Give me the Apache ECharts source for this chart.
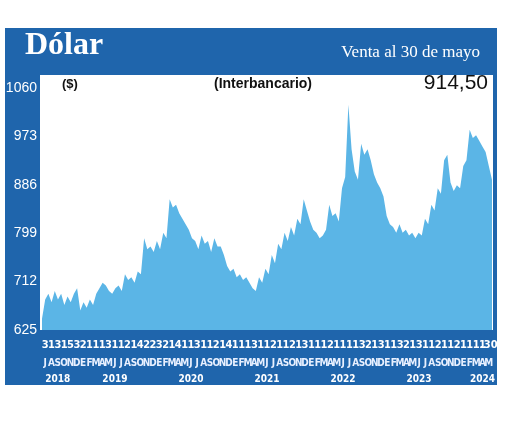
<!DOCTYPE html><html><head><meta charset="utf-8"><script src="https://cdn.jsdelivr.net/npm/echarts@6/dist/echarts.min.js"></script>
<style>body{margin:0;background:#fff}#c{width:520px;height:437px}</style></head><body><div id="c"></div>
<script>
const months=['J','A','S','O','N','D','E','F','M','A','M','J','J','A','S','O','N','D','E','F','M','A','M','J','J','A','S','O','N','D','E','F','M','A','M','J','J','A','S','O','N','D','E','F','M','A','M','J','J','A','S','O','N','D','E','F','M','A','M','J','J','A','S','O','N','D','E','F','M','A','M'];
const days='3131532111311214223214113112141113112112131112111132131132131121121111'.split('').concat(['.30']);
const yearLabels={2:'2018',11:'2019',23:'2020',35:'2021',47:'2022',59:'2023',69:'2024'};
const yTicks=[625,712,799,886,973,1060];
// two values per month, Jul 2018 .. May 2024
const values=[645,680,690,675,695,680,690,670,685,675,690,700,660,675,665,680,670,690,700,710,705,695,690,700,705,695,725,715,720,710,730,725,790,770,775,765,785,770,800,790,860,845,850,835,825,815,805,790,785,770,795,780,785,765,790,775,775,760,740,730,735,720,725,715,720,710,700,695,720,710,735,725,760,745,780,770,800,785,810,795,825,815,860,840,820,805,800,790,795,805,850,830,835,820,880,900,1030,950,910,895,960,940,950,930,905,890,880,865,830,815,810,800,815,800,805,795,800,790,800,795,825,815,850,840,880,870,930,940,890,875,885,880,920,930,985,970,975,965,955,945,920,895];
const xcat=values.map((v,i)=>i);
const chart=echarts.init(document.getElementById('c'));
const ax=(data,off,col,fs)=>({type:'category',gridIndex:0,position:'bottom',offset:off,data:data,boundaryGap:true,axisLine:{show:false},axisTick:{show:false},axisLabel:{interval:0,color:col,fontSize:fs,fontWeight:'bold',fontFamily:'Liberation Sans Narrow, DejaVu Sans Condensed, sans-serif'}});
chart.setOption({
 animation:false,
 graphic:[
  {type:'rect',shape:{x:5,y:28,width:492,height:357},style:{fill:'#1f65ac'},z:-10},
  {type:'rect',shape:{x:40,y:75,width:453,height:255},style:{fill:'#ffffff'},z:-9},
  {type:'text',left:25,top:30,style:{text:'Dólar',fill:'#fff',font:'bold 32px Liberation Serif, serif'}},
  {type:'text',right:40,top:44,style:{text:'Venta al 30 de mayo',fill:'#fff',font:'17px Liberation Serif, serif'}},
  {type:'text',left:62,top:78,style:{text:'($)',fill:'#111',font:'bold 13px Liberation Sans, sans-serif'}},
  {type:'text',left:214,top:77,style:{text:'(Interbancario)',fill:'#111',font:'bold 14px Liberation Sans, sans-serif'}},
  {type:'text',right:32,top:73,style:{text:'914,50',fill:'#111',font:'21px Liberation Sans, sans-serif'}}
 ],
 grid:{left:42,right:28,top:88,bottom:107},
 xAxis:[
  {type:'category',data:xcat,boundaryGap:false,show:false},
  ax(days,2,'#fff',11),
  ax(months,20,'#e8f0ff',10),
  ax(months.map((m,i)=>yearLabels[i]||''),36,'#fff',10)
 ],
 yAxis:{type:'value',min:625,max:1060,axisLine:{show:false},splitLine:{show:false},axisTick:{show:false},
  axisLabel:{customValues:yTicks,formatter:v=>String(v),color:'#fff',fontSize:14,margin:5,fontFamily:'Liberation Sans Narrow, sans-serif'}},
 series:[{type:'line',data:values,symbol:'none',lineStyle:{width:0},areaStyle:{color:'#5bb5e6',opacity:1},xAxisIndex:0}]
});
</script></body></html>
